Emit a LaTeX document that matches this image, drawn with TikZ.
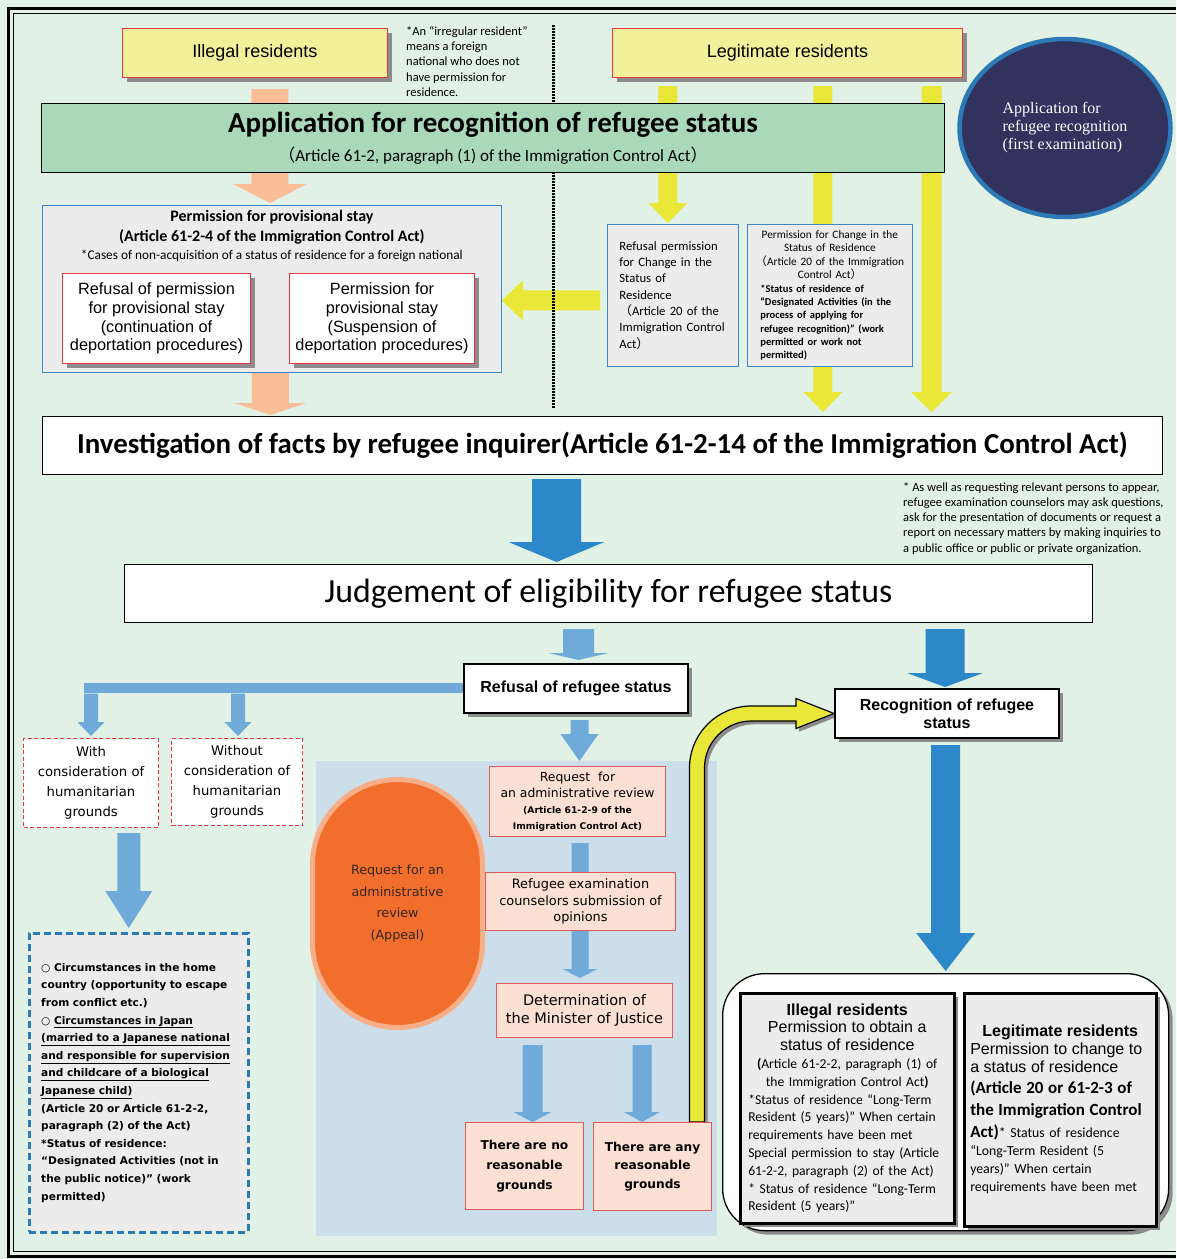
\documentclass[tikz,border=0pt]{standalone}
\usepackage{fontspec}
\setmainfont{Liberation Sans}
\newfontfamily\calfont{Carlito}
\newfontfamily\verfont{DejaVu Sans}
\newfontfamily\tmsfont{Liberation Serif}
\newfontfamily\cjkfont{Noto Sans CJK JP}
\usetikzlibrary{calc,shadows,shapes.geometric}

\definecolor{bgc}{HTML}{E1F1E6}
\definecolor{ylwbox}{HTML}{F2F09A}
\definecolor{redbd}{HTML}{E8383D}
\definecolor{yarr}{HTML}{E9E838}
\definecolor{peach}{HTML}{F9BD97}
\definecolor{grnbox}{HTML}{AAD9BA}
\definecolor{navy}{HTML}{31325E}
\definecolor{cblue}{HTML}{2C7AB5}
\definecolor{lgray}{HTML}{ECECEC}
\definecolor{bluebd}{HTML}{3F86C6}
\definecolor{dblue}{HTML}{2C88C9}
\definecolor{lblue}{HTML}{6FAAD8}
\definecolor{regc}{HTML}{CCDEEA}
\definecolor{orng}{HTML}{F26E2C}
\definecolor{orngbd}{HTML}{F8AF88}
\definecolor{pink}{HTML}{FCE0D3}
\definecolor{pinkbd}{HTML}{E0585B}
\definecolor{txtdark}{HTML}{33261F}

\pgfdeclarelayer{back}
\pgfdeclarelayer{mid}
\pgfsetlayers{back,mid,main}

\newcommand{\fs}[2]{\fontsize{#1}{#2}\selectfont}
% block arrow pointing down: colour, half shaft, half head, head length, start, tip
\newcommand{\blockdown}[6]{%
  \fill[#1] let \p1=#5, \p2=#6 in
    (\x2-#2pt,\y1) -- (\x2+#2pt,\y1) -- (\x2+#2pt,\y2+#4pt) -- (\x2+#3pt,\y2+#4pt)
    -- (\x2,\y2) -- (\x2-#3pt,\y2+#4pt) -- (\x2-#2pt,\y2+#4pt) -- cycle;}
% block arrow pointing left
\newcommand{\blockleft}[6]{%
  \fill[#1] let \p1=#5, \p2=#6 in
    (\x1,\y1+#2pt) -- (\x2+#4pt,\y1+#2pt) -- (\x2+#4pt,\y1+#3pt) -- (\x2,\y1)
    -- (\x2+#4pt,\y1-#3pt) -- (\x2+#4pt,\y1-#2pt) -- (\x1,\y1-#2pt) -- cycle;}

\tikzset{
  sz/.style 2 args={minimum width=#1pt,minimum height=#2pt},
  boxshadow/.style={drop shadow={shadow xshift=4pt,shadow yshift=-4pt,opacity=1,fill=black!45}},
  ybox/.style={anchor=north west,draw=redbd,fill=ylwbox,line width=1pt,boxshadow,font=\fs{18}{21}},
  gbox/.style={anchor=north west,draw=bluebd,fill=lgray,line width=0.8pt},
  wbox/.style={anchor=north west,draw=redbd,fill=white,line width=1pt,boxshadow,align=center,font=\fs{16.3}{18.7}},
  kbox/.style={anchor=north west,draw=black,fill=white,line width=1pt,align=center},
  rbox/.style={kbox,line width=2pt,boxshadow,font=\bfseries\fs{16}{18}},
  dbox/.style={anchor=north west,draw=redbd,fill=white,dash pattern=on 4pt off 2.5pt,line width=1pt,align=center,font=\verfont\fs{13.2}{20}},
  pbox/.style={anchor=north west,draw=pinkbd,fill=pink,line width=1pt,align=center,font=\verfont\fs{12.9}{16.5}},
  fbox/.style={anchor=north west,draw=black,fill=lgray,line width=2.5pt,boxshadow,inner ysep=0pt},
  notetxt/.style={anchor=north west,align=left,inner sep=0pt,font=\calfont\fs{12.5}{15.3}}
}

\begin{document}
\begin{tikzpicture}[x=1pt,y=-1pt]
\useasboundingbox (0,0) rectangle (1176,1259);

% residents
\node[ybox,sz={265}{49}] (ill) at (122,28) {Illegal residents};
\node[ybox,sz={350}{49}] (legit) at (612,28) {Legitimate residents};
\node[notetxt] (irrnote) at (406,26) {*An “irregular resident”\\means a foreign\\national who does not\\have permission for\\residence.};
\node[ellipse,draw=cblue,fill=navy,line width=4.5pt,sz={211}{178},text=white,align=left,font=\tmsfont\fs{16}{18}] (firstex) at (1065,128) {Application for\\refugee recognition\\(first examination)};

\node[anchor=north west,draw=black,fill=grnbox,line width=1pt,sz={903}{69},align=center,font=\calfont\fs{17}{29}] (appl) at (41,103)
  {{\bfseries\fs{29}{29}Application for recognition of refugee status}\\{\cjkfont （}Article 61-2, paragraph (1) of the Immigration Control Act{\cjkfont ）}};

% provisional stay
\node[gbox,sz={459}{167}] (prov) at (42,205) {};
\node[anchor=north,align=center,inner sep=0pt,font=\calfont\fs{13.3}{20}] (provtitle) at ($(prov.north)+(0,5)$)
  {{\bfseries\fs{16}{20}Permission for provisional stay}\\{\bfseries\fs{16}{20}(Article 61-2-4 of the Immigration Control Act)}\\[-2pt]*Cases of non-acquisition of a status of residence for a foreign national};
\node[wbox,sz={188}{90}] (refprov) at (62,273) {Refusal of permission\\for provisional stay\\(continuation of\\deportation procedures)};
\node[wbox,sz={185}{90}] (permprov) at (289,273) {Permission for\\provisional stay\\(Suspension of\\deportation procedures)};

% change of status
\node[gbox,sz={131}{142},text width=107pt,inner xsep=12pt,align=left,font=\calfont\fs{12.7}{16.3}] (refch) at (607,224)
  {Refusal permission\\for Change in the\\Status of\\Residence\\{\cjkfont （}Article 20 of the\\Immigration Control\\Act{\cjkfont ）}};
\node[gbox,sz={165}{142},text width=151pt,inner xsep=7pt,font=\calfont\fs{11.3}{13.5}] (permch) at (747,224)
  {\centering Permission for Change in the\\Status of Residence\\{\cjkfont （}Article 20 of the Immigration\\Control Act{\cjkfont ）}\par
   \raggedright\leftskip=6pt\bfseries\fs{10.5}{13.3}*Status of residence of\\“Designated Activities (in the\\process of applying for\\refugee recognition)” (work\\permitted or work not\\permitted)\par};

% investigation and judgement
\node[kbox,sz={1120}{58},font=\calfont\bfseries\fs{28.9}{30}] (invest) at (42,416) {Investigation of facts by refugee inquirer(Article 61-2-14 of the Immigration Control Act)};
\node[notetxt] (asnote) at (903,482) {* As well as requesting relevant persons to appear,\\refugee examination counselors may ask questions,\\ask for the presentation of documents or request a\\report on necessary matters by making inquiries to\\a public office or public or private organization.};
\node[kbox,sz={968}{58},font=\calfont\fs{33.8}{36}] (judge) at (124,564) {Judgement of eligibility for refugee status};

\node[rbox,sz={224}{49}] (refus) at (463,663) {Refusal of refugee status};
\node[rbox,sz={224}{49}] (recog) at (834,688) {Recognition of refugee\\status};

% humanitarian grounds
\node[dbox,sz={135}{89}] (withb) at (23,738) {With\\consideration of\\humanitarian\\grounds};
\node[dbox,sz={131}{87}] (woutb) at (171,738) {Without\\consideration of\\humanitarian\\grounds};
\node[anchor=north west,draw=cblue,fill=lgray,line width=2.5pt,dash pattern=on 7pt off 4pt,sz={219}{299},text width=195pt,inner xsep=12pt,align=left,font=\verfont\bfseries\fs{10.6}{17.6}] (humanb) at (28,932)
  {○ Circumstances in the home\\country (opportunity to escape\\from conflict etc.)\\○ \underline{Circumstances in Japan}\\\underline{(married to a Japanese national}\\\underline{and responsible for supervision}\\\underline{and childcare of a biological}\\\underline{Japanese child)}\\(Article 20 or Article 61-2-2,\\paragraph (2) of the Act)\\{}*Status of residence:\\“Designated Activities (not in\\the public notice)” (work\\permitted)};

% administrative review
\node[anchor=north west,rounded corners=85pt,draw=orngbd,fill=orng,line width=5pt,sz={170}{248},align=center,text=txtdark,font=\verfont\fs{12.7}{21.5}] (appeal) at (310,777) {Request for an\\administrative\\review\\(Appeal)};
\node[pbox,sz={176}{70},font=\verfont\fs{12.4}{16}] (reqb) at (489,766) {Request\ \ for\\an administrative review\\{\bfseries\fs{9.2}{15}(Article 61-2-9 of the}\\{\bfseries\fs{9.2}{15}Immigration Control Act)}};
\node[pbox,sz={190}{58}] (couns) at (485,872) {Refugee examination\\counselors submission of\\opinions};
\node[pbox,sz={176}{54},font=\verfont\fs{14.5}{18}] (determ) at (496,983) {Determination of\\the Minister of Justice};
\node[pbox,sz={118}{87},font=\verfont\bfseries\fs{12.2}{20}] (nog) at (465,1122) {There are no\\reasonable\\grounds};
\node[pbox,sz={118}{88},font=\verfont\bfseries\fs{12.2}{18.5}] (anyg) at (593,1122) {There are any\\reasonable\\grounds};

% outcome
\node[anchor=north west,draw=black,fill=white,line width=1.3pt,rounded corners=42pt,boxshadow,sz={446}{257}] (fin) at (722,973) {};
\node[fbox,sz={214}{230},text width=204pt,inner xsep=5pt,font=\calfont\fs{13.6}{17.8}] (finl) at (739,992)
  {\centering{\rmfamily\bfseries\fs{16}{18}Illegal residents}\\{\rmfamily\fs{16}{18}Permission to obtain a}\\{\rmfamily\fs{16}{18}status of residence}\\{\bfseries(}Article 61-2-2, paragraph (1) of\\the Immigration Control Act{\bfseries)}\par
   \raggedright\leftskip=3pt *Status of residence “Long-Term\\Resident (5 years)” When certain\\requirements have been met\\Special permission to stay (Article\\61-2-2, paragraph (2) of the Act)\\{}* Status of residence “Long-Term\\Resident (5 years)”\par};
\node[fbox,sz={190}{233},text width=180pt,inner xsep=6pt,font=\calfont\fs{13.8}{18}] (finr) at (963,992)
  {\centering{\rmfamily\bfseries\fs{16}{18}Legitimate residents}\par
   \raggedright{\rmfamily\fs{16}{18}Permission to change to}\\{\rmfamily\fs{16}{18}a status of residence}\\[3pt]{\bfseries\fs{17}{20}(Article 20 or 61-2-3 of}\\[4pt]{\bfseries\fs{17}{20}the Immigration Control}\\[4pt]{\bfseries\fs{17}{20}Act)}* Status of residence\\“Long-Term Resident (5\\years)” When certain\\requirements have been met\par};

\begin{pgfonlayer}{back}
\fill[bgc] (0,0) rectangle (1176,1259);
\draw[line width=3pt] (1176,8) -- (8,8) -- (8,1256) -- (1176,1256);
\draw[line width=0.9pt] (1176,13.5) -- (13.5,13.5) -- (13.5,1251) -- (1176,1251);
\fill[regc] (316,761) rectangle (717,1236);
\end{pgfonlayer}

\begin{pgfonlayer}{mid}
\blockleft{yarr}{10}{20}{21}{($(refch.west)+(-7,5)$)}{(prov.east)}
\draw[line width=3pt,dash pattern=on 1.5pt off 1.5pt] (553,25) -- (553,408);
\blockdown{peach}{18.5}{37}{19}{($(ill.south)+(0,11)$)}{($(prov.north)+(-2,-2)$)}
\blockdown{peach}{18.5}{36}{12}{(prov.south)}{($(prov.south |- invest.north)+(-1.5,-1)$)}
\blockdown{yarr}{9.5}{19.5}{20}{($(legit.south)+(0,8)$)}{($(refch.north)+(-5,-1)$)}
\blockdown{yarr}{9.5}{19.5}{20}{($(legit.south)+(0,8)$)}{($(permch.south |- invest.north)+(-7,-4)$)}
\blockdown{yarr}{10}{20.5}{20}{($(legit.south)+(0,8)$)}{($(legit.south east |- invest.north)+(-31.5,-4)$)}
\blockdown{dblue}{24.5}{48}{20}{($(invest.south)+(0,4)$)}{($(judge.north -| invest.south)+(-46,-2)$)}
\blockdown{lblue}{15.5}{30}{7}{($(judge.south)+(0,6)$)}{($(refus.north)+(2.5,-3)$)}
\blockdown{dblue}{19.5}{38}{14}{($(judge.south)+(0,6)$)}{($(recog.north)+(-2,-1)$)}
\fill[lblue] ($(refus.west)+(0,-6)$) rectangle ($(withb.north)+(-7.5,-45)$);
\blockdown{lblue}{7}{13.5}{14}{($(refus.west)+(0,5)$)}{($(withb.north)+(0,-2)$)}
\blockdown{lblue}{7}{13.5}{14}{($(refus.west)+(0,5)$)}{($(woutb.north)+(1,-2)$)}
\blockdown{lblue}{11.5}{23.5}{37}{($(withb.south)+(0,5)$)}{($(humanb.north)+(-10,-4)$)}
\blockdown{lblue}{9}{19}{27}{($(refus.south)+(0,6)$)}{($(reqb.north)+(2,-5)$)}
\blockdown{lblue}{8.5}{17.5}{9}{($(reqb.south)+(0,6)$)}{($(determ.north)+(-4.5,-5)$)}
\blockdown{lblue}{10}{19}{10}{($(determ.south)+(0,7)$)}{($(nog.north)+(8,0)$)}
\blockdown{lblue}{9.5}{18}{10}{($(determ.south)+(0,7)$)}{($(anyg.north)+(-10.5,0)$)}
\blockdown{dblue}{14.5}{29.5}{38}{($(recog.south)+(0,6)$)}{($(fin.north)+(0,-2)$)}
% reasonable grounds back to recognition
\filldraw[fill=yarr,draw=black,line width=1.2pt,preaction={fill=black!45,draw=black!45,transform canvas={shift={(3pt,-3pt)}}}]
  let \p1=($(anyg.north east)+(-15,0)$), \p2=(recog.west) in
  (\x1-7.5pt,\y1) -- (\x1-7.5pt,\y2-54.5pt) arc[start angle=180,end angle=90,radius=62pt]
  -- (\x2-38pt,\y2+7.5pt) -- (\x2-38pt,\y2+15pt) -- (\x2,\y2) -- (\x2-38pt,\y2-15pt)
  -- (\x2-38pt,\y2-7.5pt) -- (\x1+54.5pt,\y2-7.5pt) arc[start angle=90,end angle=180,radius=47pt]
  -- (\x1+7.5pt,\y1) -- cycle;
\end{pgfonlayer}
\end{tikzpicture}
\end{document}
